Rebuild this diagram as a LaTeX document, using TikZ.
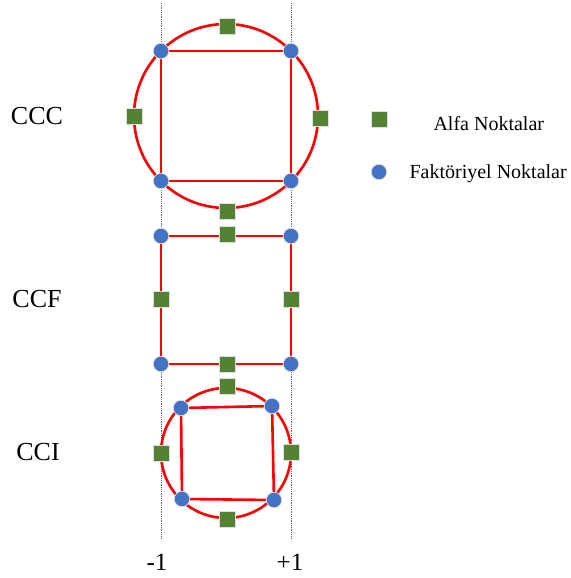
\documentclass[tikz,border=0pt]{standalone}
\usepackage{fontspec}
\setmainfont{Liberation Serif}
\definecolor{ptred}{HTML}{FF0000}
\definecolor{ptblue}{HTML}{4472C4}
\definecolor{ptgreen}{HTML}{548235}
\begin{document}
\begin{tikzpicture}[x=1pt,y=-1pt,
  factpt/.style={circle,fill=ptblue,draw=white!75!gray,line width=0.7pt,minimum size=15.5pt,inner sep=0pt},
  alfapt/.style={rectangle,fill=ptgreen,draw=white!75!gray,line width=0.7pt,minimum size=16pt,inner sep=0pt},
  frame/.style={draw=ptred,line width=2.6pt},
  axisline/.style={draw=gray!80!black,line width=1pt,dash pattern=on 1pt off 0.8pt},
  design/.style={font=\fontsize{26}{30}\selectfont,anchor=base},
  legendtext/.style={font=\fontsize{20}{24}\selectfont,anchor=base west},
  ticklabel/.style={font=\fontsize{25}{30}\selectfont,anchor=base}]
\useasboundingbox (0,0) rectangle (570,578);

% level lines at -1 and +1
\coordinate (mtop) at (161,3);
\coordinate (mbot) at (161,538);
\coordinate (ptop) at (291,3);
\coordinate (pbot) at (291,538);
\draw[axisline] (mtop) -- (mbot);
\draw[axisline] (ptop) -- (pbot);

% ---- CCC: circumscribed ----
\coordinate (cccO) at (226,116);
\draw[frame] (cccO) circle[radius=92pt];
\coordinate (ccc1) at (161,51);
\coordinate (ccc2) at (291,51);
\coordinate (ccc3) at (291,181);
\coordinate (ccc4) at (161,181);
\draw[frame] (ccc1) -- (ccc2) -- (ccc3) -- (ccc4) -- cycle;
\node[factpt] (cccf1) at (ccc1) {};
\node[factpt] (cccf2) at (ccc2) {};
\node[factpt] (cccf3) at (ccc3) {};
\node[factpt] (cccf4) at (ccc4) {};
\node[alfapt] (ccca1) at (227,26) {};
\node[alfapt] (ccca2) at (227,211) {};
\node[alfapt] (ccca3) at (134,116) {};
\node[alfapt] (ccca4) at (320,118) {};

% ---- CCF: face centred ----
\coordinate (ccf1) at (161,236);
\coordinate (ccf2) at (291,236);
\coordinate (ccf3) at (291,364);
\coordinate (ccf4) at (161,364);
\draw[frame] (ccf1) -- (ccf2) -- (ccf3) -- (ccf4) -- cycle;
\node[factpt] (ccff1) at (ccf1) {};
\node[factpt] (ccff2) at (ccf2) {};
\node[factpt] (ccff3) at (ccf3) {};
\node[factpt] (ccff4) at (ccf4) {};
\node[alfapt] (ccfa1) at (227,234) {};
\node[alfapt] (ccfa2) at (227,364) {};
\node[alfapt] (ccfa3) at (161,299) {};
\node[alfapt] (ccfa4) at (291,299) {};

% ---- CCI: inscribed ----
\coordinate (cciO) at (226,453);
\draw[frame] (cciO) circle[radius=65pt];
\coordinate (cci1) at (181,408);
\coordinate (cci2) at (272,406);
\coordinate (cci3) at (274,500);
\coordinate (cci4) at (182,499);
\draw[frame] (cci1) -- (cci2) -- (cci3) -- (cci4) -- cycle;
\node[factpt] (ccif1) at (cci1) {};
\node[factpt] (ccif2) at (cci2) {};
\node[factpt] (ccif3) at (cci3) {};
\node[factpt] (ccif4) at (cci4) {};
\node[alfapt] (ccia1) at (227,386) {};
\node[alfapt] (ccia2) at (227,519) {};
\node[alfapt] (ccia3) at (161,453) {};
\node[alfapt] (ccia4) at (291,452) {};

% design names
\node[design] (lccc) at (37,124) {CCC};
\node[design] (lccf) at (37,307) {CCF};
\node[design] (lcci) at (38,460) {CCI};

% axis values
\node[ticklabel] (lminus) at (157,570) {-1};
\node[ticklabel] (lplus) at (290,570) {+1};

% legend
\node[alfapt] (legalfa) at (379,119) {};
\node[factpt] (legfact) at (379,172) {};
\node[legendtext] (legalfatext) at (430,130) {Alfa Noktalar};
\node[legendtext] (legfacttext) at (406,178) {Faktöriyel Noktalar};
\end{tikzpicture}
\end{document}
